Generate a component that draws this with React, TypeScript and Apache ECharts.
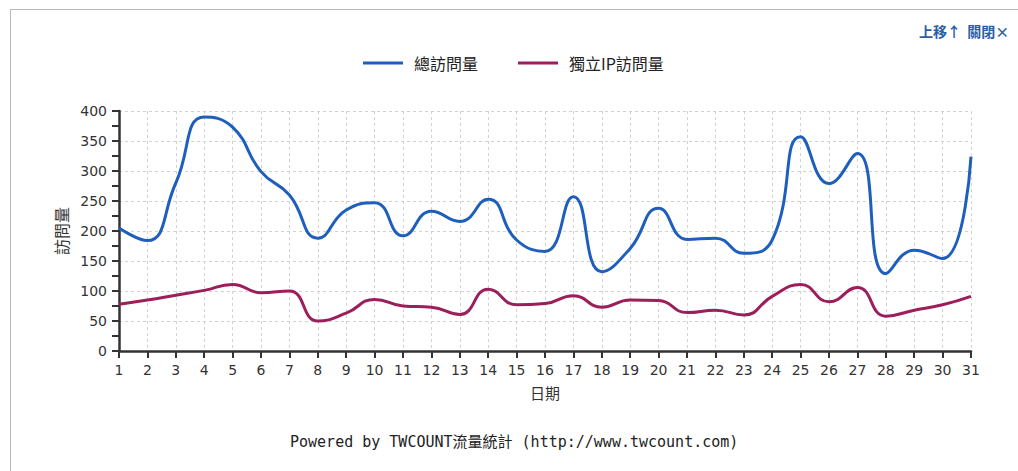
import React, { useEffect, useRef } from "react";
import * as echarts from "echarts";

const days: string[] = Array.from({ length: 31 }, (_, i) => String(i + 1));
const totalVisits: number[] = [205, 184, 280, 390, 373, 299, 260, 188, 235, 247, 192, 233, 216, 253, 185, 166, 257, 132, 171, 238, 186, 188, 163, 185, 357, 279, 329, 129, 168, 154, 324];
const uniqueIpVisits: number[] = [78, 85, 93, 101, 111, 97, 100, 50, 63, 86, 75, 73, 61, 103, 77, 79, 92, 73, 85, 84, 64, 68, 60, 91, 111, 82, 106, 58, 68, 77, 91];
const seriesNames: string[] = ["總訪問量", "獨立IP訪問量"];
const seriesColors: string[] = ["#1e5fbe", "#9c1f5c"];

export default function App() {
  const ref = useRef<HTMLDivElement>(null);
  useEffect(() => {
    if (!ref.current) return;
    const chart = echarts.init(ref.current, null, { renderer: "svg" });
    const cjk = "'Noto Sans CJK TC', 'DejaVu Sans', sans-serif";
    chart.setOption({
      animation: false,
      backgroundColor: "#ffffff",
      legend: {
        top: 50,
        left: 358,
        icon: "rect",
        itemWidth: 40,
        itemHeight: 3,
        itemGap: 40,
        textStyle: { fontFamily: cjk, fontSize: 16, color: "#222", padding: [0, 0, 0, 6] },
        data: seriesNames,
      },
      grid: { left: 119, right: 47, top: 111, bottom: 120 },
      xAxis: {
        type: "category",
        data: days,
        boundaryGap: false,
        name: "日期",
        nameLocation: "middle",
        nameGap: 34,
        nameTextStyle: { fontFamily: cjk, fontSize: 15, color: "#333" },
        axisLine: { lineStyle: { color: "#333", width: 2.5 } },
        axisTick: { show: true, length: 7, lineStyle: { color: "#333", width: 2 } },
        axisLabel: { color: "#333", fontSize: 14, fontFamily: "'DejaVu Sans', sans-serif", margin: 12 },
        splitLine: { show: true, lineStyle: { color: "#d2d2d2", type: [3, 3], width: 1 } },
      },
      yAxis: {
        type: "value",
        min: 0,
        max: 400,
        interval: 50,
        name: "訪問量",
        nameLocation: "middle",
        nameRotate: 90,
        nameGap: 48,
        nameTextStyle: { fontFamily: cjk, fontSize: 16, color: "#333" },
        axisLine: { show: true, lineStyle: { color: "#333", width: 2.5 } },
        axisTick: { show: true, length: 7, lineStyle: { color: "#333", width: 2 } },
        minorTick: { show: true, splitNumber: 2, length: 7, lineStyle: { color: "#333", width: 2 } },
        axisLabel: { color: "#333", fontSize: 14, fontFamily: "'DejaVu Sans', sans-serif", margin: 12 },
        splitLine: { show: true, lineStyle: { color: "#d2d2d2", type: [3, 3], width: 1 } },
      },
      series: [
        {
          name: seriesNames[0],
          type: "line",
          data: totalVisits,
          smooth: 0.5,
          symbol: "none",
          lineStyle: { color: seriesColors[0], width: 3 },
          itemStyle: { color: seriesColors[0] },
        },
        {
          name: seriesNames[1],
          type: "line",
          data: uniqueIpVisits,
          smooth: 0.5,
          symbol: "none",
          lineStyle: { color: seriesColors[1], width: 3 },
          itemStyle: { color: seriesColors[1] },
        },
      ],
      graphic: [
        { type: "line", shape: { x1: 10, y1: 9.5, x2: 1018, y2: 9.5 }, style: { stroke: "#bbbbbb", lineWidth: 1 } },
        { type: "line", shape: { x1: 10.5, y1: 9, x2: 10.5, y2: 471 }, style: { stroke: "#bbbbbb", lineWidth: 1 } },
        {
          type: "text",
          left: 919,
          top: 24,
          style: { text: "上移↑  關閉×", fill: "#2a5ea8", fontSize: 14, fontFamily: cjk, fontWeight: "bold" },
        },
        {
          type: "text",
          left: 290,
          top: 434,
          style: {
            text: "Powered by TWCOUNT流量統計 (http://www.twcount.com)",
            fill: "#222",
            fontSize: 15,
            fontFamily: "'DejaVu Sans Mono', 'Liberation Mono', 'Noto Sans CJK TC', monospace",
          },
        },
      ],
    });
    return () => chart.dispose();
  }, []);
  return (
    <div
      ref={ref}
      style={{ position: "absolute", left: 0, top: 0, width: 1018, height: 471 }}
    />
  );
}
